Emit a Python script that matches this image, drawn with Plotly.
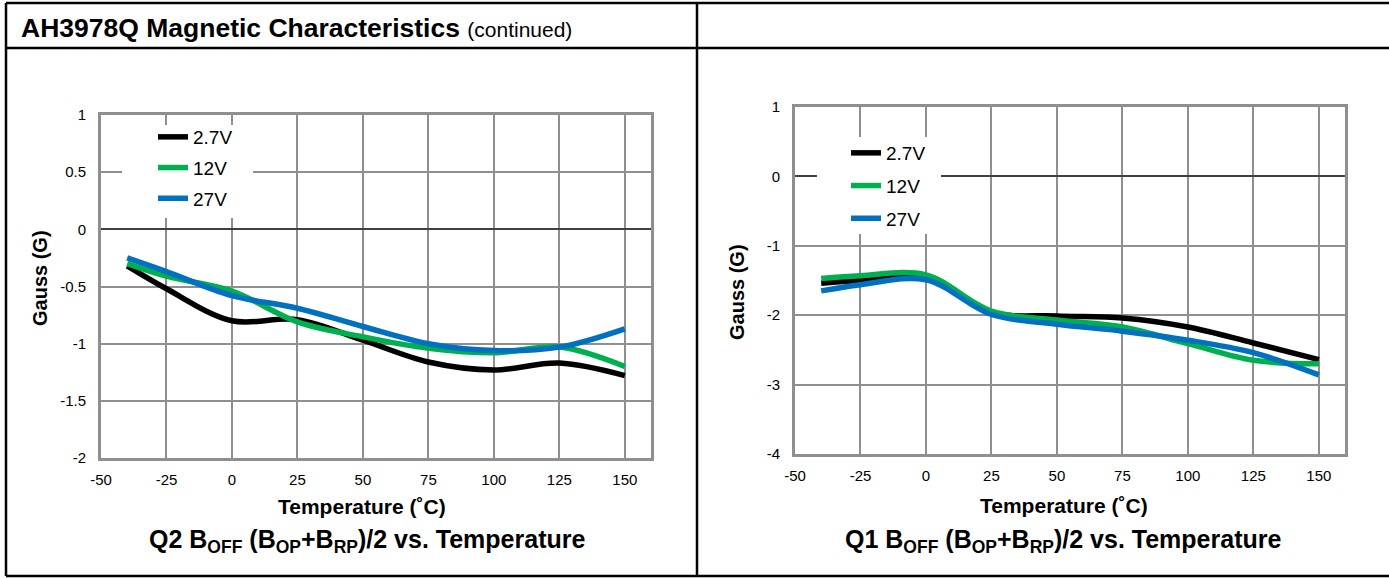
import plotly.graph_objects as go

W, H = 1389, 578

temps = [-40, -25, 0, 25, 50, 75, 100, 125, 150]
series_names = ["2.7V", "12V", "27V"]
series_colors = ["#000000", "#00B050", "#0070C0"]

# Q2 BOFF (left chart)
q2_27v = [-0.32, -0.52, -0.80, -0.79, -0.97, -1.16, -1.23, -1.17, -1.28]
q2_12v = [-0.30, -0.41, -0.54, -0.81, -0.94, -1.04, -1.08, -1.03, -1.20]
q2_27v_hi = [-0.25, -0.37, -0.58, -0.69, -0.85, -1.00, -1.06, -1.03, -0.87]

# Q1 BOFF (right chart)
q1_27v = [-1.54, -1.50, -1.47, -1.96, -2.01, -2.04, -2.17, -2.40, -2.64]
q1_12v = [-1.47, -1.43, -1.42, -1.94, -2.07, -2.17, -2.41, -2.65, -2.70]
q1_27v_hi = [-1.65, -1.56, -1.49, -1.99, -2.13, -2.23, -2.36, -2.54, -2.86]

x_ticks = [-50, -25, 0, 25, 50, 75, 100, 125, 150]
y_ticks_left = [1, 0.5, 0, -0.5, -1, -1.5, -2]
y_ticks_right = [1, 0, -1, -2, -3, -4]

FONT = "Arial, Liberation Sans, sans-serif"


def px(x):
    return x / W


def py(y):
    return 1 - y / H


fig = go.Figure()

left_sets = [q2_27v, q2_12v, q2_27v_hi]
right_sets = [q1_27v, q1_12v, q1_27v_hi]

for i, (name, col) in enumerate(zip(series_names, series_colors)):
    fig.add_trace(go.Scatter(
        x=temps, y=left_sets[i], mode="lines", name=name,
        line=dict(color=col, width=5.5, shape="spline", smoothing=1.0),
        xaxis="x", yaxis="y", legend="legend", legendgroup="l" + name,
    ))
for i, (name, col) in enumerate(zip(series_names, series_colors)):
    fig.add_trace(go.Scatter(
        x=temps, y=right_sets[i], mode="lines", name=name,
        line=dict(color=col, width=5.5, shape="spline", smoothing=1.0),
        xaxis="x2", yaxis="y2", legend="legend2", legendgroup="r" + name,
    ))

grid = "#8f8f8f"
axis_common = dict(
    showgrid=True, gridcolor=grid, gridwidth=2,
    showline=True, linecolor=grid, linewidth=3, mirror=True,
    ticks="", tickfont=dict(family=FONT, size=15, color="#000"),
    ticklabelstandoff=9, fixedrange=True, automargin=False,
)

xaxis_common = dict(axis_common, range=[-50, 160], tickvals=x_ticks,
                    ticktext=[str(v) for v in x_ticks], zeroline=False,
                    ticklabelstandoff=6)

fig.update_layout(
    width=W, height=H, autosize=False,
    margin=dict(l=0, r=0, t=0, b=0, pad=0, autoexpand=False),
    paper_bgcolor="white", plot_bgcolor="white",
    font=dict(family=FONT, color="#000"),
    xaxis=dict(xaxis_common, domain=[px(101), px(651)], anchor="y"),
    yaxis=dict(axis_common, domain=[py(458), py(115)], anchor="x",
               range=[-2, 1], tickvals=y_ticks_left,
               ticktext=[f"{v:g}" for v in y_ticks_left],
               zeroline=True, zerolinecolor="#404040", zerolinewidth=2),
    xaxis2=dict(xaxis_common, domain=[px(795), px(1345)], anchor="y2"),
    yaxis2=dict(axis_common, domain=[py(454), py(107)], anchor="x2",
                range=[-4, 1], tickvals=y_ticks_right,
                ticktext=[f"{v:g}" for v in y_ticks_right],
                zeroline=True, zerolinecolor="#404040", zerolinewidth=2),
    legend=dict(x=px(153), y=py(118), xanchor="left", yanchor="top",
                bgcolor="rgba(0,0,0,0)", font=dict(family=FONT, size=19),
                tracegroupgap=3, itemclick=False),
    legend2=dict(x=px(846), y=py(134), xanchor="left", yanchor="top",
                 bgcolor="rgba(0,0,0,0)", font=dict(family=FONT, size=19),
                 tracegroupgap=5, itemclick=False),
    showlegend=True,
)

shapes = [
    # white boxes behind the legends
    dict(type="rect", xref="paper", yref="paper", x0=px(122), x1=px(253),
         y0=py(218), y1=py(125), fillcolor="white", line_width=0, layer="above"),
    dict(type="rect", xref="paper", yref="paper", x0=px(817), x1=px(941),
         y0=py(234), y1=py(137), fillcolor="white", line_width=0, layer="above"),
    # page frame
    dict(type="line", xref="paper", yref="paper", x0=px(6), x1=px(6),
         y0=py(3), y1=py(576), line=dict(color="black", width=2.5)),
    dict(type="line", xref="paper", yref="paper", x0=px(6), x1=1,
         y0=py(3), y1=py(3), line=dict(color="black", width=2.5)),
    dict(type="line", xref="paper", yref="paper", x0=px(6), x1=1,
         y0=py(576), y1=py(576), line=dict(color="black", width=2.5)),
    dict(type="line", xref="paper", yref="paper", x0=px(6), x1=1,
         y0=py(48), y1=py(48), line=dict(color="black", width=2.5)),
    dict(type="line", xref="paper", yref="paper", x0=px(697), x1=px(697),
         y0=py(3), y1=py(576), line=dict(color="black", width=2.5)),
]
fig.update_layout(shapes=shapes)

annotations = [
    dict(x=px(19), y=py(28), xanchor="left", yanchor="middle",
         text="<b>AH3978Q Magnetic Characteristics</b> "
              "<span style='font-size:21px'>(continued)</span>",
         font=dict(size=26.5)),
    dict(x=px(362), y=py(506), text="<b>Temperature (˚C)</b>",
         font=dict(size=21)),
    dict(x=px(1064), y=py(505), text="<b>Temperature (˚C)</b>",
         font=dict(size=21)),
    dict(x=px(40), y=py(278), text="<b>Gauss (G)</b>", textangle=-90,
         font=dict(size=20)),
    dict(x=px(737), y=py(292), text="<b>Gauss (G)</b>", textangle=-90,
         font=dict(size=20)),
    dict(x=px(367), y=py(541),
         text="<b>Q2 B<sub>OFF</sub> (B<sub>OP</sub>+B<sub>RP</sub>)/2 vs. Temperature</b>",
         font=dict(size=25)),
    dict(x=px(1063), y=py(541),
         text="<b>Q1 B<sub>OFF</sub> (B<sub>OP</sub>+B<sub>RP</sub>)/2 vs. Temperature</b>",
         font=dict(size=25)),
]
for a in annotations:
    a.setdefault("xref", "paper")
    a.setdefault("yref", "paper")
    a.setdefault("showarrow", False)
    a.setdefault("xanchor", "center")
    a.setdefault("yanchor", "middle")
fig.update_layout(annotations=annotations)

# pin the figure to the window corner so the page is exactly window-sized
pin_js = """
document.documentElement.style.margin='0';
document.body.style.margin='0';
document.body.style.overflow='hidden';
var gd = document.getElementById('{plot_id}');
gd.style.position='fixed';
gd.style.left='0px';
gd.style.top='0px';
"""

fig.write_html("out.html", config=dict(displayModeBar=False),
               post_script=pin_js)
